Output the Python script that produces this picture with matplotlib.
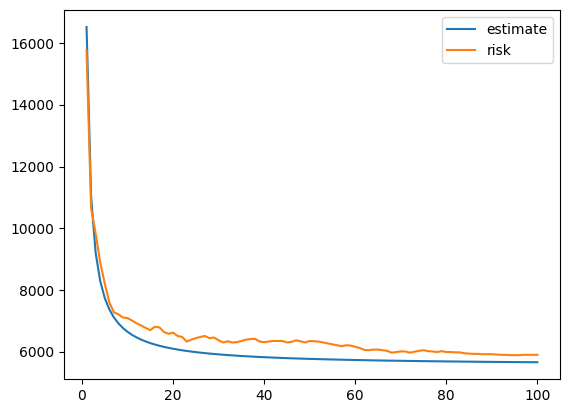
import numpy as np
import matplotlib
matplotlib.use("Agg")
import matplotlib.pyplot as plt

# iterations
steps = np.arange(1, 101)

# values
estimate = [
    16520, 11025, 9200, 8288, 7740, 7375, 7114, 6919, 6767, 6645,
    6545, 6463, 6392, 6332, 6280, 6234, 6194, 6158, 6126, 6098,
    6071, 6048, 6026, 6006, 5988, 5971, 5956, 5941, 5928, 5915,
    5903, 5892, 5882, 5872, 5863, 5854, 5846, 5838, 5831, 5824,
    5817, 5811, 5805, 5799, 5793, 5788, 5783, 5778, 5773, 5769,
    5765, 5761, 5757, 5753, 5749, 5746, 5742, 5739, 5736, 5733,
    5730, 5727, 5724, 5721, 5718, 5716, 5713, 5711, 5709, 5706,
    5704, 5702, 5700, 5698, 5696, 5694, 5692, 5690, 5689, 5687,
    5685, 5684, 5682, 5680, 5679, 5677, 5676, 5674, 5673, 5672,
    5670, 5669, 5668, 5666, 5665, 5664, 5663, 5662, 5661, 5660,
]

risk = [
    15760, 10650, 9830, 8890, 8210, 7600, 7280, 7210, 7110, 7090,
    7010, 6920, 6850, 6770, 6700, 6810, 6790, 6640, 6580, 6620,
    6510, 6480, 6330, 6390, 6440, 6480, 6510, 6440, 6460, 6370,
    6300, 6340, 6300, 6310, 6350, 6390, 6410, 6420, 6330, 6310,
    6330, 6350, 6350, 6350, 6300, 6320, 6370, 6340, 6300, 6350,
    6340, 6330, 6300, 6270, 6240, 6210, 6180, 6210, 6200, 6160,
    6120, 6060, 6050, 6070, 6070, 6050, 6030, 5970, 5990, 6010,
    6010, 5970, 6000, 6030, 6050, 6020, 6010, 5990, 6020, 5990,
    5990, 5980, 5980, 5950, 5940, 5930, 5930, 5920, 5920, 5920,
    5910, 5900, 5900, 5890, 5890, 5890, 5900, 5900, 5900, 5900,
]

fig = plt.figure(figsize=(5.70, 4.13), dpi=100)
ax = fig.add_axes([0.1123, 0.0823, 0.870, 0.893])

ax.plot(steps, estimate, label='estimate')
ax.plot(steps, risk, label='risk')
ax.legend(loc='upper right')

fig.savefig('out.png', dpi=100)
